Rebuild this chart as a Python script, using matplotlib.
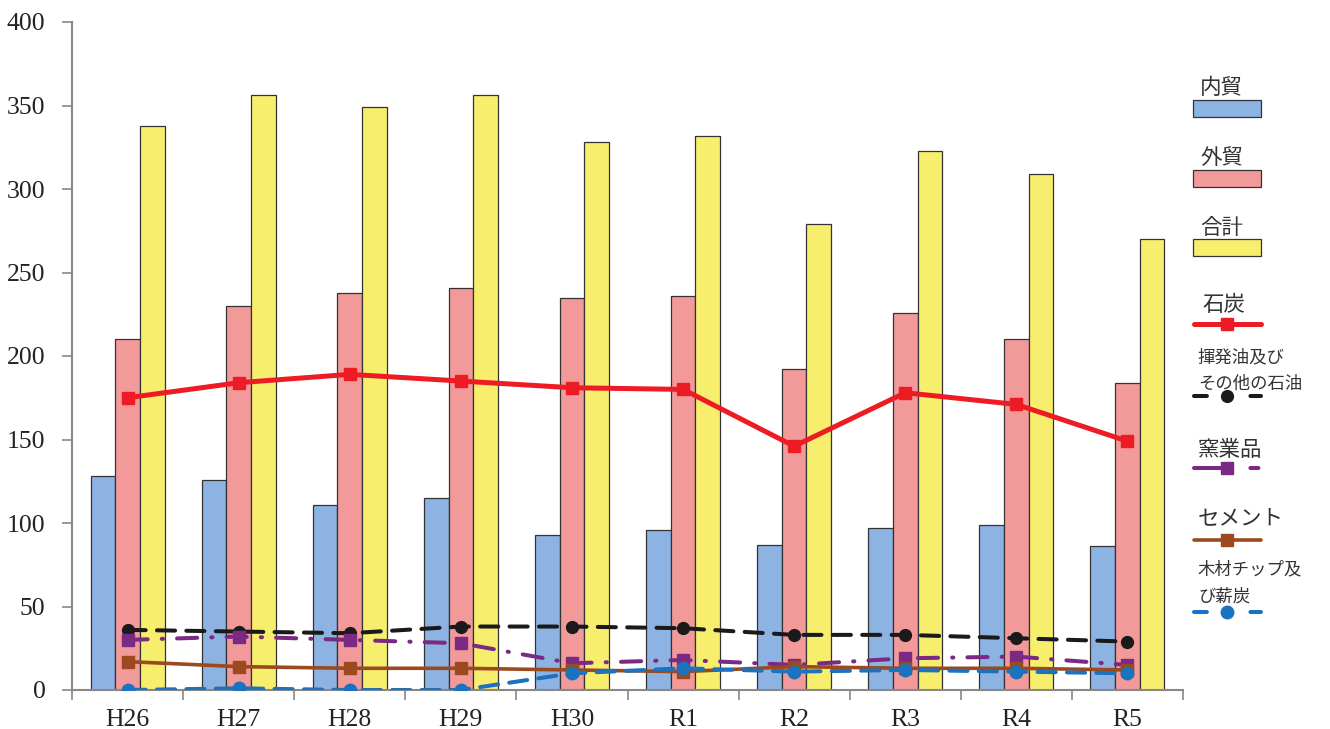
import matplotlib

matplotlib.use("Agg")
import matplotlib.pyplot as plt
import numpy as np
from matplotlib.lines import Line2D
from matplotlib.patches import Rectangle

years = ["H26", "H27", "H28", "H29", "H30", "R1", "R2", "R3", "R4", "R5"]

# bars
naibo = [128, 126, 111, 115, 93, 96, 87, 97, 99, 86]
gaibo = [210, 230, 238, 241, 235, 236, 192, 226, 210, 184]
goukei = [338, 356, 349, 356, 328, 332, 279, 323, 309, 270]

# lines
sekitan = [175, 184, 189, 185, 181, 180, 146, 178, 171, 149]
kihatsuyu = [36, 35, 34, 38, 38, 37, 33, 33, 31, 29]
yogyo = [30, 32, 30, 28, 16, 18, 15, 19, 20, 15]
cement = [17, 14, 13, 13, 12, 11, 14, 13, 13, 12]
mokuzai = [0, 1, 0, 0, 10, 13, 11, 12, 11, 10]

W, H = 1330, 729
fig = plt.figure(figsize=(W / 100, H / 100), dpi=100)
ax = fig.add_axes([72 / W, 1 - 690 / H, (1183 - 72) / W, (690 - 22) / H])

x = np.arange(len(years))
bw = 0.222
bar_kw = dict(width=bw, edgecolor="#333333", linewidth=0.9, zorder=2)
ax.bar(x - bw, naibo, color="#8DB3E2", **bar_kw)
ax.bar(x, gaibo, color="#F29A9A", **bar_kw)
ax.bar(x + bw, goukei, color="#F7EE6E", **bar_kw)

# data, colour, line style, width, marker, marker size, legend dashes
line_styles = [
    (sekitan, "#ED1C24", "-", 3.6, "s", 8, "-"),
    (kihatsuyu, "#1A1A1A", (0, (4.5, 2.8)), 2.9, "o", 8.5, (0, (3.2, 10.8))),
    (yogyo, "#7B2A83", (0, (5, 3.5, 0.3, 3.5)), 2.9, "s", 8.5, (0, (8.5, 5.5, 2, 10))),
    (cement, "#9A4A1E", "-", 2.6, "s", 8, "-"),
    (mokuzai, "#1B72BE", (0, (4.5, 2.8)), 2.9, "o", 9, (0, (3.2, 10.8))),
]
handles = []
for ys, col, ls, lw, mk, ms, _ in line_styles:
    (ln,) = ax.plot(x, ys, color=col, linestyle=ls, linewidth=lw, marker=mk,
                    markersize=ms, zorder=3, solid_capstyle="round",
                    dash_capstyle="round")
    handles.append(ln)

ax.set_xlim(-0.5, 9.5)
ax.set_ylim(0, 400)
ax.set_yticks(range(0, 401, 50))
ax.set_xticks(x)
ax.set_xticklabels(years)
ax.set_xticks(np.arange(-0.5, 10, 1), minor=True)
ax.tick_params(axis="x", which="major", length=0, pad=14)
ax.tick_params(axis="x", which="minor", length=7, color="#888888", width=1.2)
ax.tick_params(axis="y", length=7, color="#888888", width=1.2, pad=12)
for lab in ax.get_xticklabels() + ax.get_yticklabels():
    lab.set_fontfamily("Liberation Serif")
    lab.set_fontsize(18.5)
    lab.set_color("#222222")
for s in ["top", "right"]:
    ax.spines[s].set_visible(False)
for s in ["left", "bottom"]:
    ax.spines[s].set_color("#888888")
    ax.spines[s].set_linewidth(1.5)


# legend drawn by hand: label above the handle
def fx(px):
    return px / W


def fy(py):
    return 1 - py / H


jp = ["Noto Sans CJK JP", "DejaVu Sans"]
bar_legend = [("内貿", "#8DB3E2", 88, 100), ("外貿", "#F29A9A", 158, 170),
              ("合計", "#F7EE6E", 228, 239)]
for label, col, ty, by in bar_legend:
    fig.text(fx(1200), fy(ty), label, fontsize=15.5, family=jp, va="center",
             color="#333333")
    fig.add_artist(Rectangle((fx(1193), fy(by + 17)), fx(68), 17 / H,
                             transform=fig.transFigure, facecolor=col,
                             edgecolor="#333333", linewidth=0.9))

line_legend = [
    ("石炭", 15.5, [305], 324, 1202),
    ("揮発油及び\nその他の石油", 12.5, [357, 384], 396, 1198),
    ("窯業品", 15.5, [450], 468, 1198),
    ("セメント", 15.5, [518], 540, 1198),
    ("木材チップ及\nび薪炭", 12.5, [569, 597], 612, 1198),
]
for (label, fs, tys, ly, tx), ln, st in zip(line_legend, handles, line_styles):
    for part, ty in zip(label.split("\n"), tys):
        fig.text(fx(tx), fy(ty), part, fontsize=fs, family=jp, va="center",
                 color="#333333")
    fig.add_artist(Line2D([fx(1194), fx(1227), fx(1261)], [fy(ly)] * 3,
                          transform=fig.transFigure, color=ln.get_color(),
                          linestyle=st[6], linewidth=ln.get_linewidth(),
                          marker=ln.get_marker(), markersize=ln.get_markersize(),
                          markevery=[1], dash_capstyle="round",
                          solid_capstyle="round"))

fig.savefig("out.png", dpi=100)
